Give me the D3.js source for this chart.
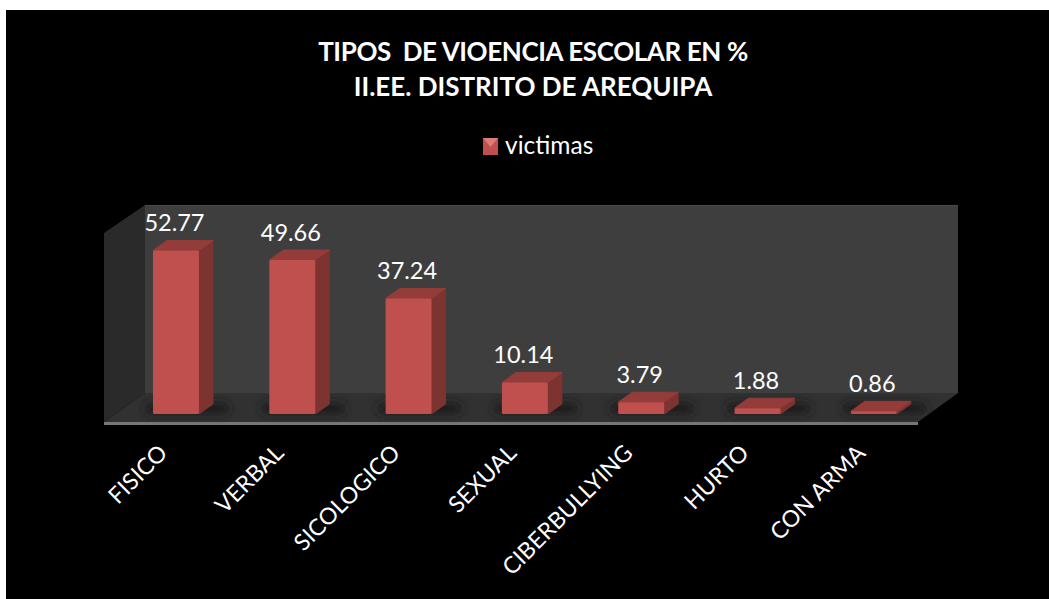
<!DOCTYPE html>
<html><head><meta charset="utf-8">
<script src="https://cdn.jsdelivr.net/npm/d3@7/dist/d3.min.js"></script>
<style>html,body{margin:0;padding:0;background:#fff;overflow:hidden}svg{display:block}text{font-family:Lato,"Open Sans",sans-serif}</style>
</head><body><svg id="c" width="1049" height="599"></svg>
<script>
const categories=["FISICO","VERBAL","SICOLOGICO","SEXUAL","CIBERBULLYING","HURTO","CON ARMA"];
const victimas=[52.77,49.66,37.24,10.14,3.79,1.88,0.86];
const labels=["52.77","49.66","37.24","10.14","3.79","1.88","0.86"];
const titleLines=["TIPOS  DE VIOENCIA ESCOLAR EN %","II.EE. DISTRITO DE AREQUIPA"];
const seriesName="victimas";

const svg=d3.select("#c");
const defs=svg.append("defs");
const blur=defs.append("filter").attr("id","blur").attr("x","-50%").attr("y","-200%").attr("width","200%").attr("height","500%");
blur.append("feGaussianBlur").attr("stdDeviation",4);

svg.append("rect").attr("x",6).attr("y",10).attr("width",1043).attr("height",589).attr("fill","#000");

// Walls and floor
const poly=(pts,fill)=>svg.append("polygon").attr("points",pts.map(p=>p.join(",")).join(" ")).attr("fill",fill);
poly([[145,205],[958,205],[958,393],[145,393]],"#3e3e3e");
svg.append("line").attr("x1",145).attr("x2",958).attr("y1",205.5).attr("y2",205.5).attr("stroke","#4a4a4a");
poly([[104,233],[145,205],[145,393],[104,422]],"#2a2a2a");
poly([[145,393],[958,393],[918,422],[104,422]],"#313131");
poly([[104,422],[918,422],[918,425],[104,425]],"#777");

// Bars
const x=d3.scaleBand().domain(categories).range([118.1,931.7]).paddingInner(0.6045).paddingOuter(0.3);
const y=d3.scaleLinear().domain([0,60]).range([414,228]);
const dx=14,dy=-10,r=1.5;
const data=categories.map((c,i)=>({c,v:victimas[i],l:labels[i],i}));
const bars=svg.append("g").selectAll("g.bar").data(data).join("g").attr("class","bar");
bars.append("rect").attr("x",d=>x(d.c)-8).attr("y",403).attr("width",x.bandwidth()+38).attr("height",11).attr("rx",5)
  .attr("fill","#1e1e1e").attr("filter","url(#blur)");
bars.append("polygon").attr("fill","#7d3330").attr("stroke","#7d3330").attr("stroke-linejoin","round")
  .attr("points",d=>{const a=x(d.c)+x.bandwidth();return [[a,y(d.v)],[a+dx,y(d.v)+dy],[a+dx,y(0)+dy],[a,y(0)]].join(" ");});
bars.append("polygon").attr("fill","#943c39").attr("stroke","#943c39").attr("stroke-linejoin","round")
  .attr("points",d=>{const a=x(d.c),b=a+x.bandwidth();return [[a,y(d.v)],[a+dx,y(d.v)+dy],[b+dx,y(d.v)+dy],[b,y(d.v)]].join(" ");});
bars.append("rect").attr("x",d=>x(d.c)).attr("y",d=>y(d.v)).attr("width",x.bandwidth()).attr("height",d=>y(0)-y(d.v)).attr("rx",r).attr("fill","#c0504d");
bars.append("text").attr("x",d=>x(d.c)+x.bandwidth()/2-1.5).attr("y",d=>y(d.v)-19.5).attr("text-anchor","middle")
  .attr("font-size",23.5).attr("fill","#fff").text(d=>d.l);

// Category axis labels
svg.append("g").selectAll("text").data(categories).join("text")
  .attr("transform",c=>`translate(${x(c)+x.bandwidth()/2-18.5},${443}) rotate(-45)`)
  .attr("text-anchor","end").attr("dy","0.7em").attr("font-size",23).attr("fill","#fff").text(c=>c);

// Title
svg.append("g").selectAll("text").data(titleLines).join("text").attr("x",533).attr("y",(d,i)=>61+i*35)
  .attr("text-anchor","middle").attr("font-size",26).attr("font-weight",700).attr("letter-spacing",(d,i)=>i?0:-0.39)
  .attr("fill","#fff").style("white-space","pre").text(d=>d);

// Legend
const leg=svg.append("g");
leg.append("rect").attr("x",483).attr("y",138).attr("width",15).attr("height",17).attr("fill","#c0504d");
leg.append("polygon").attr("points","483,138 498,138 490.5,147").attr("fill","#e07a76");
leg.append("text").attr("x",505).attr("y",154).attr("font-size",24.5).attr("fill","#fff").text(seriesName);
</script></body></html>
